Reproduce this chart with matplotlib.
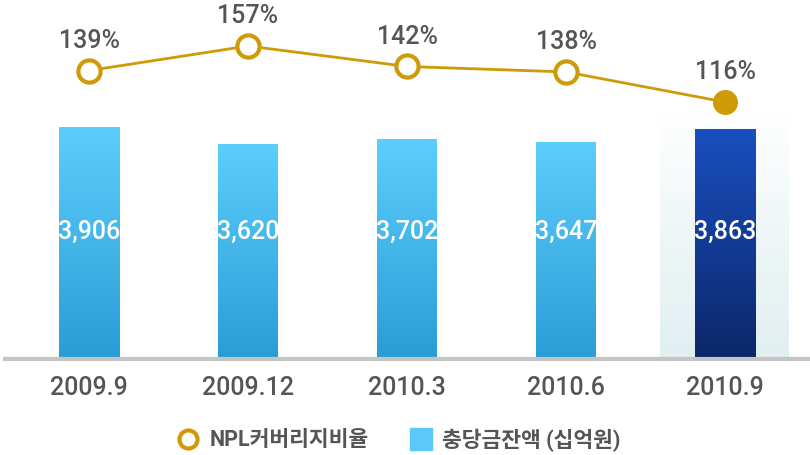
import numpy as np
import matplotlib.pyplot as plt
from matplotlib.colors import LinearSegmentedColormap
from matplotlib.lines import Line2D

plt.rcParams['font.family'] = ['Roboto', 'Noto Sans CJK KR', 'DejaVu Sans']

# Data
periods = ['2009.9', '2009.12', '2010.3', '2010.6', '2010.9']
reserves = [3906, 3620, 3702, 3647, 3863]
npl_ratio = [139, 157, 142, 138, 116]
reserve_labels = ['3,906', '3,620', '3,702', '3,647', '3,863']
ratio_labels = ['139%', '157%', '142%', '138%', '116%']

gold = '#cf9a08'
gray_text = '#555555'
light_cmap = LinearSegmentedColormap.from_list('light', ['#5dcdfc', '#2a9dd6'])
dark_cmap = LinearSegmentedColormap.from_list('dark', ['#1a4fc0', '#0b276a'])
hl_cmap = LinearSegmentedColormap.from_list('hl', ['#ffffff', '#eef6f7', '#e1eff1'])

fig = plt.figure(figsize=(8.1, 4.56), dpi=100)
W, H = 810, 456
base_px = 359  # baseline from top
ax = fig.add_axes([0, (H - base_px) / H, 1, base_px / H])
px_per_unit = 0.0591
x = np.arange(len(periods))
ax.axis('off')

grad = np.linspace(0, 1, 256).reshape(-1, 1)

# highlight column behind last bar
hl_top = (base_px - 112) / px_per_unit
ax.imshow(grad, cmap=hl_cmap, aspect='auto', origin='upper',
          extent=(x[-1] - 0.41, x[-1] + 0.40, 0, hl_top), zorder=0)

bw = 60 / 159
bars = ax.bar(x, reserves, width=bw, color='none', zorder=1)
for i, b in enumerate(bars):
    cmap = dark_cmap if i == len(bars) - 1 else light_cmap
    ax.imshow(grad, cmap=cmap, aspect='auto', origin='upper',
              extent=(b.get_x(), b.get_x() + b.get_width(), 0, b.get_height()),
              zorder=2)
    ax.text(x[i], (base_px - 232) / px_per_unit, reserve_labels[i], color='white',
            fontsize=18, fontweight='medium', ha='center', va='center', zorder=3)

ax.set_xlim(-89 / 159, (810 - 89) / 159)
ax.set_ylim(0, base_px / px_per_unit)

# baseline
fig.add_artist(Line2D([5 / W, 1], [(H - 360) / H] * 2, color='#c4c4c4', lw=3))

# ratio line
ax2 = ax.twinx()
ax2.axis('off')
ax2.set_ylim(-71.4, 191.4)
ax2.plot(x, npl_ratio, color=gold, lw=2, zorder=4)
ax2.plot(x[:-1], npl_ratio[:-1], 'o', ms=16, mfc='white', mec=gold, mew=3, zorder=5)
ax2.plot(x[-1:], npl_ratio[-1:], 'o', ms=17, mfc=gold, mec=gold, zorder=5)
for i, lab in enumerate(ratio_labels):
    ax2.annotate(lab, (x[i], npl_ratio[i]), xytext=(0, 22), textcoords='offset points',
                 ha='center', va='center', fontsize=18, fontweight='medium',
                 color=gray_text)

# category labels
for i, p in enumerate(periods):
    ax.annotate(p, (x[i], 0), xytext=(0, -21), textcoords='offset points',
                ha='center', va='center', fontsize=18, fontweight='medium',
                color=gray_text)

# legend
ly = (H - 440) / H
fig.add_artist(Line2D([187.5 / W], [ly], marker='o', ms=13, mfc='white', mec=gold, mew=3))
fig.text(210 / W, ly, 'NPL커버리지비율', fontsize=15.5, fontweight='bold',
         color=gray_text, va='center', ha='left')
fig.add_artist(Line2D([421 / W], [ly], marker='s', ms=15.5, mfc='#5ac8fa', mec='#5ac8fa'))
fig.text(442 / W, ly, '충당금잔액 (십억원)', fontsize=15.5, fontweight='bold',
         color=gray_text, va='center', ha='left')

fig.savefig('out.png', dpi=100)
